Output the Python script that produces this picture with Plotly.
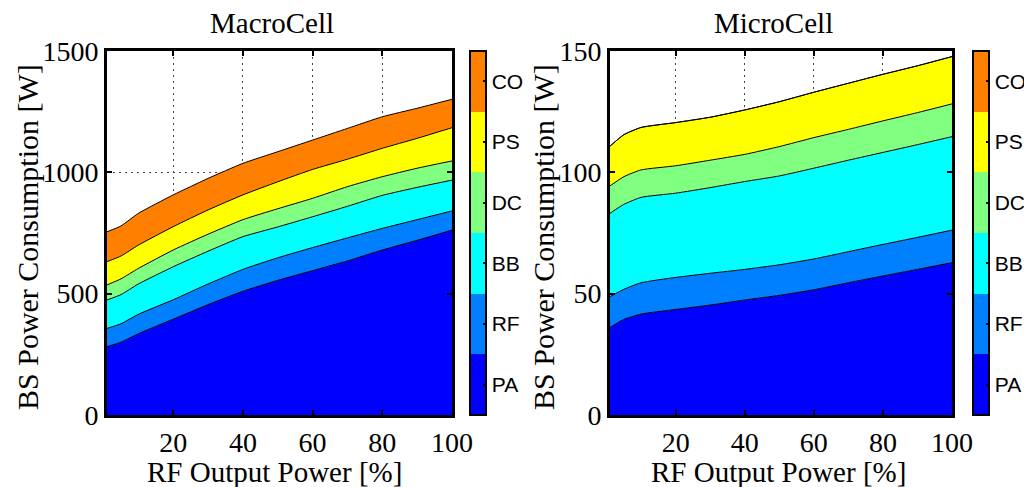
import plotly.graph_objects as go

# ---------------- data ----------------
rf_output = [1, 5, 10, 20, 30, 40, 50, 60, 70, 80, 90, 100]
components = ["PA", "RF", "BB", "DC", "PS", "CO"]
colors = ["#0000FF", "#0080FF", "#00FFFF", "#80FF80", "#FFFF00", "#FF8000"]

macro_PA = [282, 300, 335, 395, 455, 510, 555, 595, 635, 680, 720, 762]
macro_RF = [75, 76, 80, 80, 85, 90, 93, 95, 95, 89, 85, 79]
macro_BB = [117, 120, 125, 136, 135, 135, 127, 127, 130, 136, 133, 127]
macro_DC = [62, 65, 64, 69, 70, 70, 75, 76, 81, 77, 79, 79]
macro_PS = [96, 94, 96, 96, 100, 102, 111, 119, 113, 117, 123, 137]
macro_CO = [123, 124, 131, 131, 130, 130, 124, 121, 127, 130, 124, 117]

micro_PA = [36.1, 39.4, 41.6, 43.5, 45.3, 47.4, 49.3, 51.6, 54.5, 57.3, 60.0, 62.8]
micro_RF = [12.7, 12.4, 12.9, 13.2, 13.1, 12.6, 12.6, 12.7, 12.8, 13.0, 13.2, 13.4]
micro_BB = [34.3, 35.0, 35.2, 34.7, 35.3, 36.2, 36.6, 37.4, 37.7, 37.9, 38.2, 38.5]
micro_DC = [11.3, 11.4, 11.3, 11.3, 11.3, 11.2, 12.1, 12.6, 12.7, 13.0, 13.2, 13.5]
micro_PS = [16.4, 17.3, 17.5, 17.8, 17.7, 18.3, 18.5, 18.7, 19.0, 19.2, 19.3, 19.5]
micro_CO = [0, 0, 0, 0, 0, 0, 0, 0, 0, 0, 0, 0]

macro = [macro_PA, macro_RF, macro_BB, macro_DC, macro_PS, macro_CO]
micro = [micro_PA, micro_RF, micro_BB, micro_DC, micro_PS, micro_CO]

x_ticks = [20, 40, 60, 80, 100]
macro_yticks = [0, 500, 1000, 1500]
micro_yticks = [0, 50, 100, 150]

# ---------------- layout geometry (window pixels) ----------------
OFF = 8                      # page body margin
W, H = 1032 - OFF, 487 - OFF  # figure size
# target positions below are given in window pixels
FL, FR_, FT, FB = 107, 952, 51, 415   # left/right/top/bottom of the plotting block
ML, MR, MT, MB = FL - OFF, (OFF + W) - FR_, FT - OFF, (OFF + H) - FB
PW, PH = W - ML - MR, H - MT - MB

def xp(X):  # window pixel -> paper fraction
    return (X - FL) / PW

def yp(Y):
    return (FB - Y) / PH

serif = "Liberation Serif"
sans = "Liberation Sans"

fig = go.Figure()

def add_stack(vals, xa, ya, group):
    for name, c, v in zip(components, colors, vals):
        fig.add_trace(go.Scatter(
            x=rf_output, y=v, name=name, stackgroup=group,
            mode="lines", line=dict(color="black", width=1, shape="spline", smoothing=0.5),
            fillcolor=c, xaxis=xa, yaxis=ya, showlegend=False, hoverinfo="skip"))

add_stack(macro, "x", "y", "macro")
add_stack(micro, "x2", "y2", "micro")

# discrete colour scale for the legend bars
cs = []
n = len(colors)
for i, c in enumerate(colors):
    cs.append([i / n, c])
    cs.append([(i + 1) / n, c])

def add_bar(xa, ya, xpix):
    fig.add_trace(go.Scatter(
        x=[-50], y=[-5000], mode="markers", xaxis=xa, yaxis=ya, showlegend=False,
        hoverinfo="skip",
        marker=dict(color=[0], cmin=0, cmax=n, colorscale=cs, showscale=True, size=1,
                    colorbar=dict(
                        x=xp(xpix), xanchor="left",
                        y=1, yanchor="top",
                        len=1, lenmode="fraction",
                        thickness=16, thicknessmode="pixels",
                        outlinewidth=2, outlinecolor="black",
                        tickmode="array", tickvals=[i + 0.5 for i in range(n)],
                        ticktext=components, ticks="inside", ticklen=4,
                        tickcolor="black", tickwidth=1.5,
                        tickfont=dict(family=sans, size=21, color="black"),
                        xpad=0, ypad=0))))

add_bar("x", "y", 470)
add_bar("x2", "y2", 973)

axis_common = dict(
    showline=True, linecolor="black", linewidth=3, mirror="allticks",
    ticks="inside", ticklen=5, tickwidth=1.5, tickcolor="black",
    showgrid=True, gridcolor="#444444", griddash="2px,4px", gridwidth=1.2,
    zeroline=False, automargin=False,
    tickfont=dict(family=serif, size=28, color="black"),
)

fig.update_layout(
    width=W, height=H,
    margin=dict(l=ML, r=MR, t=MT, b=MB, autoexpand=False),
    plot_bgcolor="white", paper_bgcolor="white",
    xaxis=dict(domain=[0, xp(452)], anchor="y", range=[1, 100], tickvals=x_ticks, **axis_common),
    yaxis=dict(domain=[0, 1], anchor="x", range=[0, 1500], tickvals=macro_yticks, **axis_common),
    xaxis2=dict(domain=[xp(610), 1], anchor="y2", range=[1, 100], tickvals=x_ticks, **axis_common),
    yaxis2=dict(domain=[0, 1], anchor="x2", range=[0, 150], tickvals=micro_yticks, **axis_common),
)

title_font = dict(family=serif, size=29, color="black")
label_font = dict(family=serif, size=29, color="black")
ylabel_font = dict(family=serif, size=30, color="black")

annotations = [
    dict(text="MacroCell", x=xp(272), y=yp(23), font=title_font),
    dict(text="MicroCell", x=xp(773), y=yp(23), font=title_font),
    dict(text="RF Output Power [%]", x=xp(274), y=yp(472), font=label_font),
    dict(text="RF Output Power [%]", x=xp(778), y=yp(472), font=label_font),
    dict(text="BS Power Consumption [W]", x=xp(27), y=yp(237), font=ylabel_font, textangle=-90),
    dict(text="BS Power Consumption [W]", x=xp(543), y=yp(237), font=ylabel_font, textangle=-90),
]
for a in annotations:
    a.update(xref="paper", yref="paper", showarrow=False, xanchor="center", yanchor="middle")
fig.update_layout(annotations=annotations)

fig.write_html("out.html")
